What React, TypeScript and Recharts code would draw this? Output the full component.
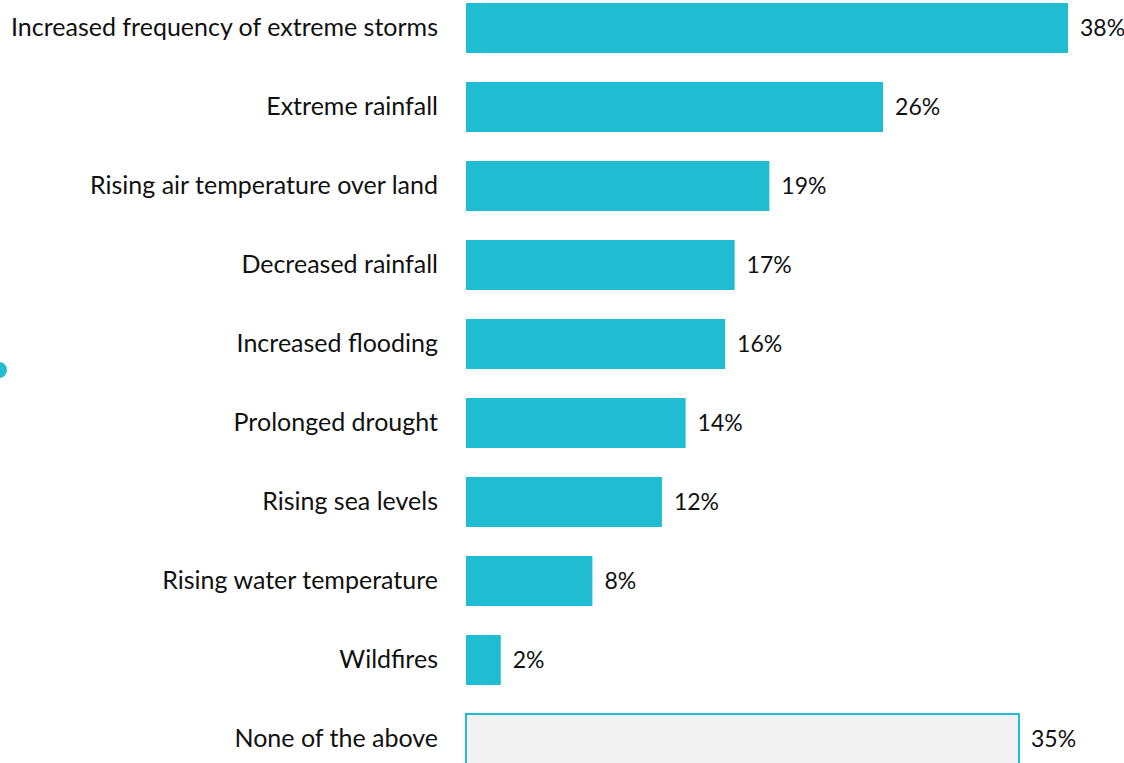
import { BarChart, Bar, XAxis, YAxis, LabelList, Cell } from 'recharts';

const categories = [
  'Increased frequency of extreme storms',
  'Extreme rainfall',
  'Rising air temperature over land',
  'Decreased rainfall',
  'Increased flooding',
  'Prolonged drought',
  'Rising sea levels',
  'Rising water temperature',
  'Wildfires',
  'None of the above',
];

// labels show the rounded value
const shares = [38.1, 26.4, 19.2, 17.0, 16.4, 13.9, 12.4, 8.0, 2.2, 35.0];

const data = categories.map((name, i) => ({ name, value: shares[i] }));

const TEAL = '#1fbcd2';
const FONT = 'Lato, "Open Sans", sans-serif';

export default function App() {
  return (
    <div
      style={{
        position: 'fixed',
        top: 0,
        left: 0,
        width: 1124,
        height: 763,
        overflow: 'hidden',
        background: '#fff',
      }}
    >
      {/* decorative dot on the left edge */}
      <div
        style={{
          position: 'absolute',
          left: -9,
          top: 362,
          width: 16,
          height: 16,
          borderRadius: '50%',
          background: TEAL,
        }}
      />
      <div style={{ position: 'absolute', top: -12, left: 0 }}>
        <BarChart
          width={1124}
          height={790}
          data={data}
          layout="vertical"
          margin={{ top: 0, right: 26, bottom: 0, left: 0 }}
          barSize={50}
        >
          <XAxis type="number" domain={[0, 40]} hide />
          <YAxis
            type="category"
            dataKey="name"
            width={466}
            axisLine={false}
            tickLine={false}
            tickSize={0}
            tickMargin={28}
            interval={0}
            tick={{ fill: '#111', fontSize: 25, fontFamily: FONT }}
          />
          <Bar dataKey="value" isAnimationActive={false}>
            {data.map((d, i) => (
              <Cell
                key={d.name}
                fill={i === data.length - 1 ? '#f2f2f2' : TEAL}
                stroke={i === data.length - 1 ? TEAL : 'none'}
                strokeWidth={2}
              />
            ))}
            <LabelList
              dataKey="value"
              position="right"
              offset={12}
              formatter={(v: any) => `${Math.round(Number(v))}%`}
              style={{ fill: '#111', fontSize: 23, fontFamily: FONT }}
            />
          </Bar>
        </BarChart>
      </div>
    </div>
  );
}
